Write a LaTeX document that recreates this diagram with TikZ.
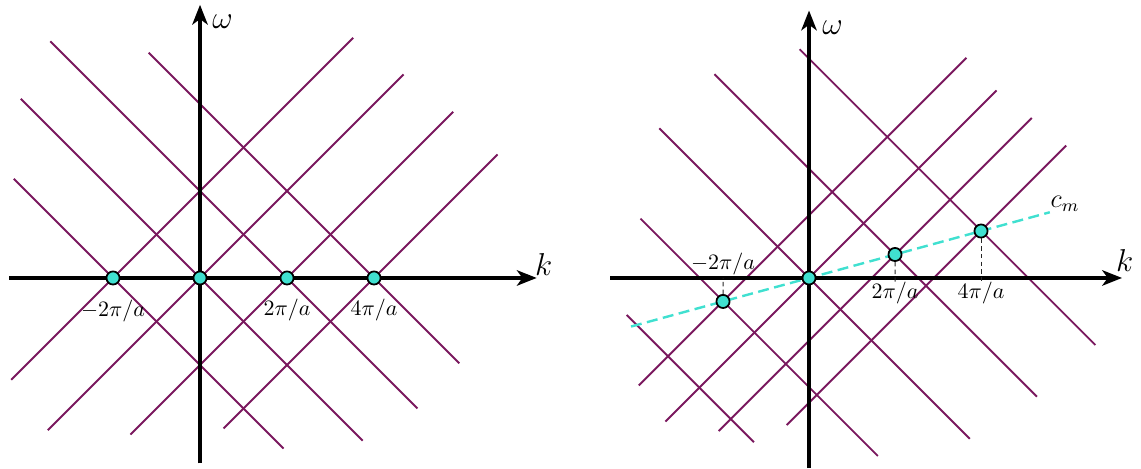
\documentclass[tikz,border=0pt]{standalone}
\usetikzlibrary{arrows.meta}
\definecolor{bandcol}{RGB}{122,24,94}
\definecolor{dotcol}{RGB}{64,224,208}

\begin{document}
\begin{tikzpicture}[x=1.392cm, y=1.392cm, line width=0.85pt,
  branch/.style={draw=bandcol},
  axisline/.style={line width=1.8pt, -{Stealth[length=9pt, width=7pt, inset=2.5pt]}},
  crossdot/.style={circle, draw, fill=dotcol, line width=0.8pt, inner sep=0pt, minimum size=0.21cm},
  proj/.style={draw=black!85, line width=0.45pt, dash pattern=on 2pt off 1.5pt},
  cmline/.style={draw=dotcol, line width=1.1pt, dash pattern=on 5pt off 2.5pt}]
  \useasboundingbox (-2.299,-2.195) rectangle (10.816,3.195);
  % 왼쪽 그림: 정지한 매질
  \draw[branch] (-2.17,-1.17) -- (1.76,2.76);
  \draw[branch] (-1.75,-1.75) -- (2.34,2.34);
  \draw[branch] (-0.80,-1.80) -- (2.91,1.91);
  \draw[branch] (0.27,-1.73) -- (3.42,1.42);
  \draw[branch] (-1.72,2.72) -- (2.50,-1.50);
  \draw[branch] (-2.06,2.06) -- (1.87,-1.87);
  \draw[branch] (-2.14,1.14) -- (0.96,-1.96);
  \draw[branch] (-0.59,2.59) -- (2.98,-0.98);
  \draw[axisline] (-2.195,0) -- (3.87,0);
  \draw[axisline] (0,-2.13) -- (0,3.14);
  \node[font=\Large] (lw) at (0.26,2.95) {$\omega$};
  \node[font=\Large] (lk) at (3.95,0.16) {$k$};
  \node[crossdot] (ldm1) at (-1,0) {};
  \node[crossdot] (ld0) at (0,0) {};
  \node[crossdot] (ld1) at (1,0) {};
  \node[crossdot] (ld2) at (2,0) {};
  \node (lm1) at (-1,-0.38) {$-2\pi/a$};
  \node (l1) at (1,-0.37) {$2\pi/a$};
  \node (l2) at (2,-0.37) {$4\pi/a$};
  % 오른쪽 그림: 움직이는 매질
  \begin{scope}[shift={(7,0)}, scale=0.9885]
    \draw[branch] (-1.98,-1.25) -- (1.83,2.56);
    \draw[branch] (-1.67,-1.67) -- (2.18,2.18);
    \draw[branch] (-1.05,-1.78) -- (2.59,1.86);
    \draw[branch] (-0.26,-1.71) -- (2.99,1.54);
    \draw[branch] (-0.11,2.66) -- (3.33,-0.78);
    \draw[branch] (-1.10,2.37) -- (2.65,-1.38);
    \draw[branch] (-1.74,1.74) -- (1.87,-1.87);
    \draw[branch] (-1.96,0.69) -- (0.80,-2.07);
    \draw[branch] (-2.12,-0.43) -- (-0.64,-1.91);
    \coordinate (cmstart) at (-2.07,-0.565);
    \coordinate (cmend) at (2.80,0.764);
    \draw[cmline] (cmstart) -- (cmend);
    \node[font=\large, anchor=south west, inner sep=0pt] (cm) at (cmend) {$c_m$};
    \draw[axisline] (-2.31,0) -- (3.64,0);
    \draw[axisline] (0,-2.21) -- (0,3.11);
    \node[font=\Large] (rw) at (0.273,2.91) {$\omega$};
    \node[font=\Large] (rk) at (3.67,0.198) {$k$};
    \node[crossdot] (rdm1) at (-1,-0.273) {};
    \node[crossdot] (rd0) at (0,0) {};
    \node[crossdot] (rd1) at (1,0.273) {};
    \node[crossdot] (rd2) at (2,0.546) {};
    \coordinate (rax) at (-1,0);
    \node (rm1) at (-1,0.163) {$-2\pi/a$};
    \node[inner sep=0pt] (r1) at (1,-0.18) {$2\pi/a$};
    \node[inner sep=0pt] (r2) at (2,-0.18) {$4\pi/a$};
    \draw[proj] (rdm1) -- (rax);
    \draw[proj] (rd1) -- (r1);
    \draw[proj] (rd2) -- (r2);
  \end{scope}
\end{tikzpicture}
\end{document}
